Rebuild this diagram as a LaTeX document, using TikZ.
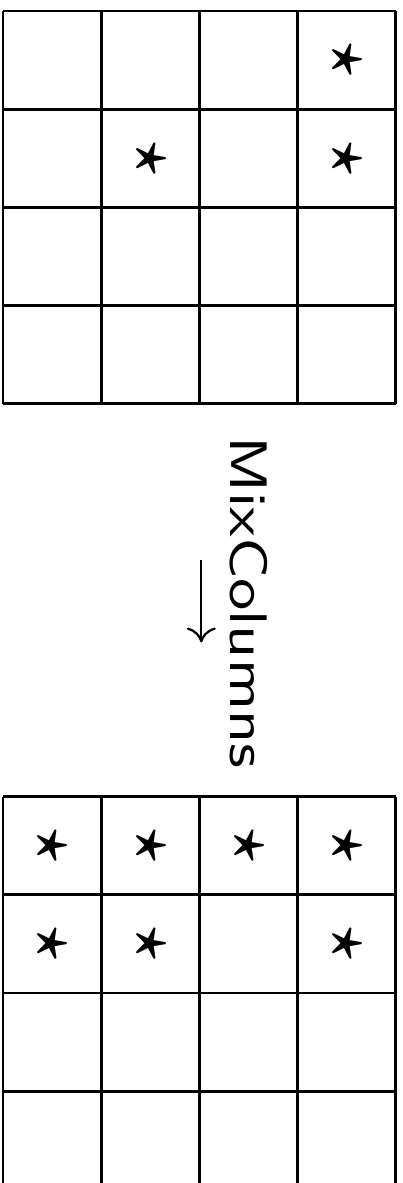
\documentclass[tikz,border=0pt]{standalone}
\usepackage{tikz}
\usepackage{amsmath}
\usepackage{amssymb}
\usetikzlibrary{arrows.meta}

\begin{document}
\begin{tikzpicture}[line width=0.8pt,
 starnode/.style={font=\fontsize{17}{20}\selectfont,rotate=-90,inner sep=0pt},
 opname/.style={font=\fontsize{15.3}{18}\selectfont\sffamily,rotate=-90,
 inner sep=0pt,anchor=base},
 oparrow/.style={line width=0.65pt,-{To[length=4.3pt,width=8.4pt]}}]

  \useasboundingbox (-0.03,0.112) rectangle (4.064,-11.935);

  % state before and after
  \draw (0,-4) grid (4,0);
  \draw (0,-12) grid (4,-8);

  \foreach \R/\C in {1/4,2/2,2/4}
  {\node[starnode] (a\R\C) at ({\C-0.5},{0.5-\R}) {$\boldsymbol{\star}$};}
  \foreach \R/\C in {1/1,1/2,1/3,1/4,2/1,2/2,2/4}
  {\node[starnode] (b\R\C) at ({\C-0.5},{-7.5-\R}) {$\boldsymbol{\star}$};}

  \coordinate (arrtop) at (2.02,-5.59);
  \coordinate (arrbot) at (2.02,-6.43);
  \draw[oparrow] (arrtop) -- (arrbot);
  \node[opname] (mixcol) at (2.32,-6.02) {\scalebox{1.25}[1]{MixColumns}};

\end{tikzpicture}
\end{document}
